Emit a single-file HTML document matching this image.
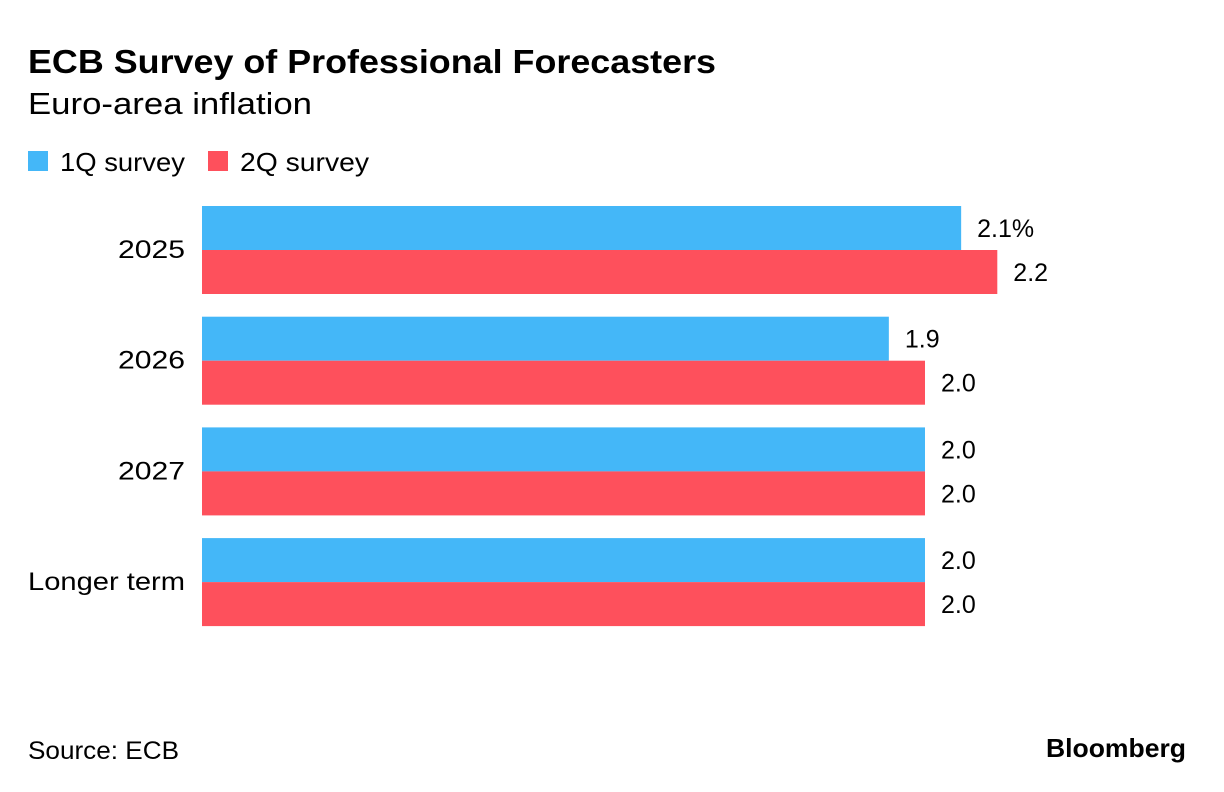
<!DOCTYPE html>
<html><head><meta charset="utf-8"><style>
body{margin:0;background:#fff;font-family:"Liberation Sans",sans-serif;}
#c{position:relative;width:1224px;height:792px;overflow:hidden;}
</style></head><body>
<div id="c">
<svg width="1224" height="792">
<text x="28" y="73" font-size="33" font-weight="bold" textLength="688" lengthAdjust="spacingAndGlyphs" fill="#000">ECB Survey of Professional Forecasters</text>
<text x="28" y="114" font-size="31" textLength="284" lengthAdjust="spacingAndGlyphs" fill="#000">Euro-area inflation</text>
<rect x="28" y="151" width="20" height="20" fill="#44b7f8"/>
<text x="60" y="171" font-size="26" textLength="125" lengthAdjust="spacingAndGlyphs">1Q survey</text>
<rect x="208" y="151" width="20" height="20" fill="#fe505c"/>
<text x="240" y="171" font-size="26" textLength="129" lengthAdjust="spacingAndGlyphs">2Q survey</text>
<g id="bars"></g>
<text x="28" y="759" font-size="25" textLength="151" lengthAdjust="spacingAndGlyphs">Source: ECB</text>
<text x="1186" y="757" font-size="26" font-weight="bold" text-anchor="end" textLength="140" lengthAdjust="spacingAndGlyphs">Bloomberg</text>
</svg>
</div>
<script>
const categories=["2025","2026","2027","Longer term"];
const q1Values=[2.1,1.9,2.0,2.0];
const q2Values=[2.2,2.0,2.0,2.0];
const q1Labels=["2.1%","1.9","2.0","2.0"];
const q2Labels=["2.2","2.0","2.0","2.0"];
const NS="http://www.w3.org/2000/svg";
const g=document.getElementById('bars');
const x0=202,scale=361.5;
const xs=v=>x0+v*scale;
const yGroup=i=>206+i*110.7;
const bh=44;
function mk(t,a){const e=document.createElementNS(NS,t);for(const k in a)e.setAttribute(k,a[k]);g.appendChild(e);return e;}
categories.forEach((c,i)=>{
  const y=yGroup(i);
  const lab=mk('text',{x:185,y:y+bh+8,'font-size':25,'text-anchor':'end'});
  lab.textContent=c;
  lab.setAttribute('textLength',c.length>4?157:67);
  lab.setAttribute('lengthAdjust','spacingAndGlyphs');
  
  
  [[q1Values,q1Labels,'#44b7f8',0,'1q'],[q2Values,q2Labels,'#fe505c',bh,'2q']].forEach(s=>{
    const v=s[0][i];
    const r=mk('rect',{x:x0,y:y+s[3],width:xs(v)-x0,height:bh,fill:s[2]});
    
    
    const t=mk('text',{x:xs(v)+16,y:y+s[3]+bh/2+9,'font-size':25});
    t.textContent=s[1][i];
    
    
  });
});
</script>
</body></html>
